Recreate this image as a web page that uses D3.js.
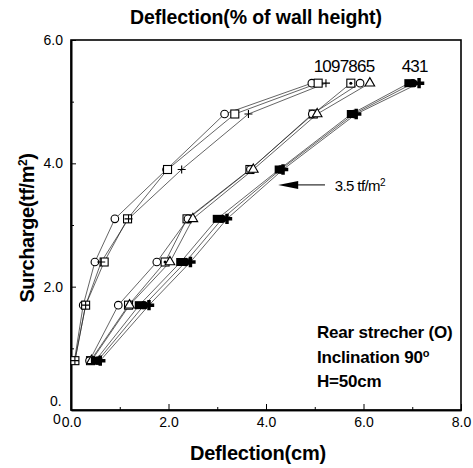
<!DOCTYPE html>
<html>
<head>
<meta charset="utf-8">
<title>Deflection chart</title>
<style>
 body{ margin:0; background:#fff; }
 svg{ display:block; font-family:'Liberation Sans', Arial, Helvetica, sans-serif; }
</style>
<script src="https://cdnjs.cloudflare.com/ajax/libs/d3/7.8.5/d3.min.js"></script>
</head>
<body>
<div id="plot"></div>
<script>
  // surcharge levels (tf/m2)
  var loads = [0.8, 1.7, 2.4, 3.1, 3.9, 4.8, 5.3];

  // deflection (cm) of each wall at those levels
  var wall10 = [0.07, 0.25, 0.49, 0.90, 1.96, 3.15, 4.94];
  var wall9  = [0.08, 0.30, 0.68, 1.16, 1.98, 3.36, 5.07];
  var wall7  = [0.08, 0.30, 0.62, 1.18, 2.27, 3.64, 5.23];
  var wall8  = [0.40, 1.18, 1.93, 2.38, 3.67, 4.97, 5.74];
  var wall6  = [0.38, 0.97, 1.76, 2.40, 3.68, 4.95, 5.93];
  var wall5  = [0.42, 1.20, 2.03, 2.50, 3.74, 5.05, 6.13];
  var wall4  = [0.50, 1.40, 2.25, 3.00, 4.27, 5.75, 6.93];
  var wall3  = [0.55, 1.50, 2.35, 3.10, 4.30, 5.80, 7.02];
  var wall1  = [0.60, 1.60, 2.45, 3.20, 4.35, 5.85, 7.14];

  var xTicks = [0, 2, 4, 6, 8];
  var xMinor = [1, 3, 5, 7];
  var yTicks = [2, 4, 6];
  var yMinor = [1, 3, 5];

  var series = [
    {name: "10", vals: wall10, mark: "circle"},
    {name: "9",  vals: wall9,  mark: "square"},
    {name: "7",  vals: wall7,  mark: "plus"},
    {name: "8",  vals: wall8,  mark: "squaredot"},
    {name: "6",  vals: wall6,  mark: "circle"},
    {name: "5",  vals: wall5,  mark: "triangle"},
    {name: "4",  vals: wall4,  mark: "fsquare"},
    {name: "3",  vals: wall3,  mark: "fcircle"},
    {name: "1",  vals: wall1,  mark: "fplus"}
  ];

  var w = 473, h = 468;
  var m = {left: 71, right: 12, top: 40, bottom: 58};

  var svg = d3.select("#plot").append("svg")
      .attr("width", w).attr("height", h);

  var x = d3.scaleLinear().domain([0, 8]).range([m.left, w - m.right]);
  var y = d3.scaleLinear().domain([0, 6]).range([h - m.bottom, m.top]);

  // frame
  svg.append("rect")
     .attr("x", x(0)).attr("y", y(6))
     .attr("width", x(8) - x(0)).attr("height", y(0) - y(6))
     .attr("fill", "none").attr("stroke", "#000").attr("stroke-width", 1.6);

  // axes (ticks pointing inward)
  svg.append("g").attr("transform", "translate(0," + y(0) + ")")
     .call(d3.axisBottom(x).tickValues(xTicks).tickSizeInner(-6).tickSizeOuter(0)
       .tickPadding(7).tickFormat(d3.format(".1f")));
  svg.append("g").attr("transform", "translate(0," + y(0) + ")")
     .call(d3.axisBottom(x).tickValues(xMinor).tickSizeInner(-3).tickSizeOuter(0).tickFormat(""));

  svg.append("g").attr("transform", "translate(" + x(0) + ",0)")
     .call(d3.axisLeft(y).tickValues(yTicks).tickSizeInner(-5).tickSizeOuter(0)
       .tickPadding(8).tickFormat(d3.format(".1f")));
  svg.append("g").attr("transform", "translate(" + x(0) + ",0)")
     .call(d3.axisLeft(y).tickValues(yMinor).tickSizeInner(-3).tickSizeOuter(0).tickFormat(""));

  svg.selectAll(".domain").attr("stroke-width", 1.6);
  svg.selectAll(".tick line").attr("stroke-width", 1);
  svg.selectAll(".tick text").attr("font-size", 14).attr("fill", "#000")
     .attr("font-family", "'Liberation Sans', Arial, sans-serif");

  // odd split zero label
  svg.append("text").attr("x", x(0) - 21).attr("y", y(0) - 4)
     .attr("font-size", 14).text("0.");
  svg.append("text").attr("x", x(0) - 18).attr("y", y(0) + 14)
     .attr("font-size", 14).text("0");

  // lines
  var line = d3.line()
      .x(function(d) { return x(d[0]); })
      .y(function(d) { return y(d[1]); });

  svg.selectAll("path.curve")
     .data(series)
     .enter().append("path")
     .attr("class", "curve")
     .attr("fill", "none").attr("stroke", "#222").attr("stroke-width", 0.7)
     .attr("d", function(s) { return line(s.vals.map(function(v, i) { return [v, loads[i]]; })); });

  // markers
  function drawMark(g, kind) {
    var sw = 1.1;
    if (kind == "circle") {
      g.append("circle").attr("r", 3.8).attr("fill", "#fff").attr("stroke", "#000").attr("stroke-width", sw);
    } else if (kind == "square") {
      g.append("rect").attr("x", -4).attr("y", -4).attr("width", 8).attr("height", 8)
       .attr("fill", "#fff").attr("stroke", "#000").attr("stroke-width", sw);
    } else if (kind == "squaredot") {
      g.append("rect").attr("x", -4).attr("y", -4).attr("width", 8).attr("height", 8)
       .attr("fill", "#fff").attr("stroke", "#000").attr("stroke-width", sw);
      g.append("circle").attr("r", 1.5).attr("fill", "#000");
    } else if (kind == "plus") {
      g.append("path").attr("d", "M-4,0H4M0,-4V4").attr("stroke", "#000").attr("stroke-width", sw);
    } else if (kind == "triangle") {
      g.append("path").attr("d", d3.symbol().type(d3.symbolTriangle).size(40)())
       .attr("fill", "#fff").attr("stroke", "#000").attr("stroke-width", sw);
    } else if (kind == "fsquare") {
      g.append("rect").attr("x", -4.5).attr("y", -4).attr("width", 9).attr("height", 8).attr("fill", "#000");
    } else if (kind == "fcircle") {
      g.append("circle").attr("r", 4.2).attr("fill", "#000");
    } else if (kind == "fplus") {
      g.append("path").attr("d", d3.symbol().type(d3.symbolCross).size(60)()).attr("fill", "#000");
    }
  }

  series.forEach(function(s) {
    svg.append("g").selectAll("g")
       .data(s.vals.map(function(v, i) { return [v, loads[i]]; }))
       .enter().append("g")
       .attr("transform", function(d) { return "translate(" + x(d[0]) + "," + y(d[1]) + ")"; })
       .each(function() { drawMark(d3.select(this), s.mark); });
  });

  // wall number labels over the curve ends
  svg.append("text").attr("x", x(5.6)).attr("y", y(5.3) - 11)
     .attr("text-anchor", "middle").attr("font-size", 17).attr("letter-spacing", -0.8)
     .text("1097865");
  svg.append("text").attr("x", x(7.05)).attr("y", y(5.3) - 11)
     .attr("text-anchor", "middle").attr("font-size", 17).attr("letter-spacing", -0.8)
     .text("431");

  // 3.5 tf/m2 arrow
  var ay = y(3.65);
  svg.append("line").attr("x1", x(4.6)).attr("x2", x(5.21)).attr("y1", ay).attr("y2", ay)
     .attr("stroke", "#000").attr("stroke-width", 1);
  svg.append("path")
     .attr("d", "M" + x(4.25) + "," + ay + "L" + (x(4.25) + 20) + "," + (ay - 4) + "L" + (x(4.25) + 20) + "," + (ay + 4) + "Z")
     .attr("fill", "#000");
  var at = svg.append("text").attr("x", x(5.41)).attr("y", ay + 6)
     .attr("font-size", 15).attr("letter-spacing", -0.6);
  at.append("tspan").text("3.5 tf/m");
  at.append("tspan").attr("dy", -5).attr("font-size", 10).text("2");

  // notes
  var notes = svg.append("g").attr("font-weight", "bold").attr("font-size", 17).attr("letter-spacing", -0.2);
  notes.append("text").attr("x", 317).attr("y", 338).text("Rear strecher (O)");
  var inc = notes.append("text").attr("x", 317).attr("y", 363);
  inc.append("tspan").text("Inclination 90");
  inc.append("tspan").attr("dy", -6).attr("font-size", 11).text("o");
  notes.append("text").attr("x", 317).attr("y", 387).text("H=50cm");

  // titles
  svg.append("text").attr("x", 256).attr("y", 24).attr("text-anchor", "middle")
     .attr("font-weight", "bold").attr("font-size", 19.5).attr("letter-spacing", -0.1)
     .text("Deflection(% of wall height)");
  svg.append("text").attr("x", 258).attr("y", 460).attr("text-anchor", "middle")
     .attr("font-weight", "bold").attr("font-size", 20).attr("letter-spacing", -0.2)
     .text("Deflection(cm)");
  var yl = svg.append("text").attr("transform", "translate(34,228) rotate(-90)")
     .attr("text-anchor", "middle").attr("font-weight", "bold").attr("font-size", 20)
     .attr("letter-spacing", -0.4);
  yl.append("tspan").text("Surcharge(tf/m");
  yl.append("tspan").attr("dy", -7).attr("font-size", 12).text("2");
  yl.append("tspan").attr("dy", 7).text(")");
</script>
</body>
</html>
